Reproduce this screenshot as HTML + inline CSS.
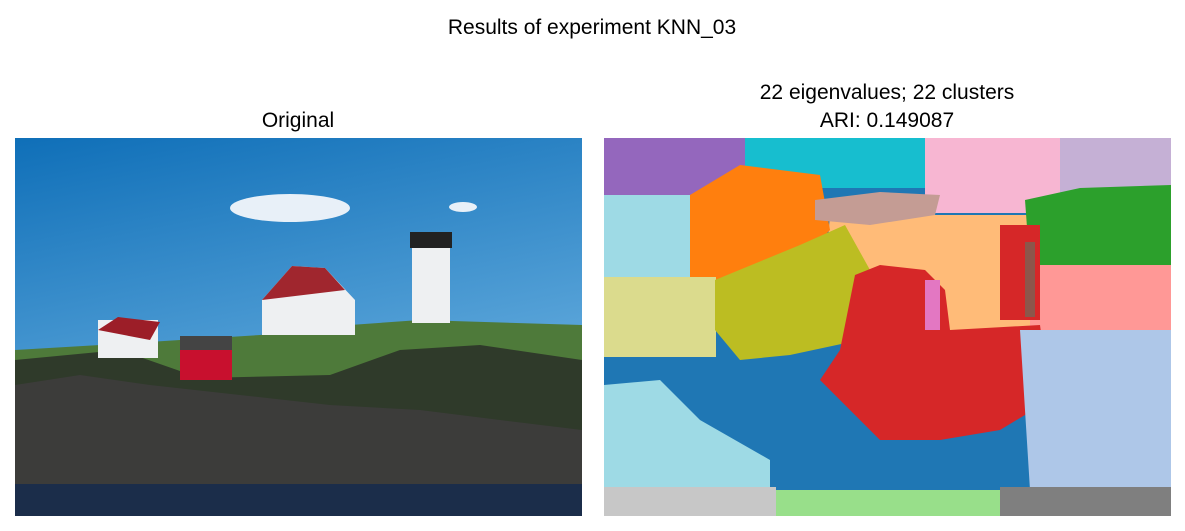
<!DOCTYPE html>
<html><head><meta charset="utf-8"><style>
body{margin:0;background:#fff;}
svg{display:block;font-family:"Liberation Sans","DejaVu Sans",sans-serif;}
</style></head><body>
<svg width="1185" height="531" viewBox="0 0 1185 531">
<text x="592" y="34" text-anchor="middle" font-size="21">Results of experiment KNN_03</text>
<text x="298" y="127" text-anchor="middle" font-size="21">Original</text>
<text x="887" y="99" text-anchor="middle" font-size="21">22 eigenvalues; 22 clusters</text>
<text x="887" y="127" text-anchor="middle" font-size="21">ARI: 0.149087</text>
<defs>
<linearGradient id="sky" x1="0" y1="0" x2="0.3" y2="1"><stop offset="0" stop-color="#0f6fb8"/><stop offset="1" stop-color="#72b6e4"/></linearGradient>
<clipPath id="c1"><rect x="15" y="138" width="567" height="378"/></clipPath>
<clipPath id="c2"><rect x="604" y="138" width="567" height="378"/></clipPath>
</defs>
<g clip-path="url(#c1)">
<rect x="15" y="138" width="567" height="378" fill="url(#sky)"/>
<ellipse cx="290" cy="208" rx="60" ry="14" fill="#e8f0f8"/>
<ellipse cx="463" cy="207" rx="14" ry="5" fill="#e8f0f8"/>
<polygon points="15,350 100,345 180,340 260,335 350,325 420,320 582,325 582,420 15,440" fill="#4e7a3a"/>
<polygon points="15,360 120,350 200,378 330,375 400,350 480,345 582,360 582,490 15,490" fill="#2f3a2a"/>
<polygon points="15,385 80,375 150,385 240,395 330,405 420,410 500,420 582,430 582,490 15,490" fill="#3c3c3a"/>
<rect x="15" y="484" width="567" height="32" fill="#1b2d4a"/>
<rect x="412" y="245" width="38" height="78" fill="#eef0f2"/>
<rect x="410" y="232" width="42" height="16" fill="#222"/>
<polygon points="262,300 292,266 325,268 355,300 355,335 262,335" fill="#eef0f2"/>
<polygon points="262,300 292,266 325,268 345,290" fill="#a0262e"/>
<rect x="98" y="320" width="60" height="38" fill="#eef0f2"/>
<polygon points="98,330 118,317 160,322 150,340" fill="#9c1e28"/>
<rect x="180" y="340" width="52" height="40" fill="#c8102e"/>
<rect x="180" y="336" width="52" height="14" fill="#444"/>
</g>
<g clip-path="url(#c2)">
<rect x="604" y="138" width="567" height="378" fill="#1f77b4"/>
<rect x="604" y="138" width="150" height="60" fill="#9467bd"/>
<rect x="745" y="138" width="195" height="50" fill="#17becf"/>
<rect x="925" y="138" width="145" height="75" fill="#f7b6d2"/>
<rect x="1060" y="138" width="111" height="55" fill="#c5b0d5"/>
<rect x="604" y="195" width="90" height="85" fill="#9edae5"/>
<polygon points="830,215 1030,215 1030,335 820,335" fill="#ffbb78"/>
<polygon points="690,195 740,165 820,175 830,230 800,260 720,280 690,280" fill="#ff7f0e"/>
<polygon points="815,200 880,192 940,195 935,215 870,225 815,220" fill="#c49c94"/>
<polygon points="1025,200 1080,188 1171,185 1171,272 1030,268" fill="#2ca02c"/>
<rect x="1030" y="265" width="141" height="65" fill="#ff9896"/>
<rect x="604" y="277" width="112" height="80" fill="#dbdb8d"/>
<polygon points="715,280 800,245 845,225 870,270 860,340 790,355 740,360 715,330" fill="#bcbd22"/>
<polygon points="855,275 880,265 925,270 945,290 950,330 1040,325 1050,400 1000,430 940,440 880,440 820,380 840,350" fill="#d62728"/>
<rect x="1000" y="225" width="40" height="95" fill="#d62728"/>
<rect x="1025" y="242" width="10" height="75" fill="#8c564b"/>
<rect x="925" y="280" width="15" height="50" fill="#e377c2"/>
<polygon points="1020,330 1171,330 1171,490 1030,490" fill="#aec7e8"/>
<polygon points="604,385 660,380 700,420 770,460 770,490 604,490" fill="#9edae5"/>
<rect x="604" y="487" width="172" height="29" fill="#c7c7c7"/>
<rect x="776" y="490" width="229" height="26" fill="#98df8a"/>
<rect x="1000" y="487" width="171" height="29" fill="#7f7f7f"/>
</g>
</svg>
</body></html>
